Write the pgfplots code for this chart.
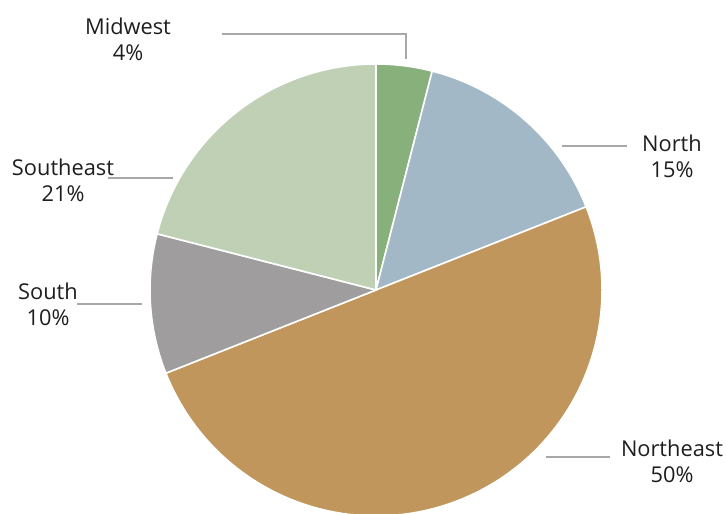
\documentclass[border=0pt]{standalone}
\usepackage{pgfplots}
\pgfplotsset{compat=1.18}
\usepackage{pgfplotstable}
\usepackage{fontspec}
\setmainfont{Open Sans}
\definecolor{cMW}{HTML}{88B07A}
\definecolor{cN}{HTML}{A2B8C6}
\definecolor{cNE}{HTML}{C0965D}
\definecolor{cS}{HTML}{A09D9F}
\definecolor{cSE}{HTML}{BFD0B5}
\definecolor{lead}{HTML}{A8A8A8}
\definecolor{txt}{HTML}{1E1E1E}
% region, percent
\pgfplotstableread{
name      pct
Midwest   4
North     15
Northeast 50
South     10
Southeast 21
}\piedata
\newcommand{\slice}[3]{% start angle, percent, colour
  \fill[#3, draw=white, line width=0.8pt, line join=round]
    (axis cs:376,223) -- ++(#1:113pt)
    arc[start angle=#1, delta angle={-(#2)*3.6}, radius=113pt] -- cycle;}
\begin{document}
\begin{tikzpicture}
\begin{axis}[
  x=0.5pt, y=0.5pt,
  xmin=0, xmax=726, ymin=0, ymax=513,
  hide axis, clip=true,
  at={(0,0)}, anchor=south west,
]
\slice{90}{4}{cMW}
\slice{75.6}{15}{cN}
\slice{21.6}{50}{cNE}
\slice{-158.4}{10}{cS}
\slice{-194.4}{21}{cSE}
% leader lines
\draw[lead, line width=1.1pt] (axis cs:406,454) -- (axis cs:406,479) -- (axis cs:222,479);
\draw[lead, line width=1.1pt] (axis cs:562,367) -- (axis cs:627,367);
\draw[lead, line width=1.1pt] (axis cs:108,335) -- (axis cs:173,335);
\draw[lead, line width=1.1pt] (axis cs:77,209) -- (axis cs:142,209);
\draw[lead, line width=1.1pt] (axis cs:546,56) -- (axis cs:610,56);
% labels
\begin{scope}[every node/.style={text=txt, font=\fontsize{10.9}{13}\selectfont, align=center, inner sep=0pt}]
\node at (axis cs:128,474) {Midwest\\4\%};
\node at (axis cs:672,357) {North\\15\%};
\node at (axis cs:63,333) {Southeast\\21\%};
\node at (axis cs:48,209) {South\\10\%};
\node at (axis cs:672,52) {Northeast\\50\%};
\end{scope}
\end{axis}
\pgfresetboundingbox
\useasboundingbox (0,0) rectangle (363pt,256.5pt);
\end{tikzpicture}
\end{document}
